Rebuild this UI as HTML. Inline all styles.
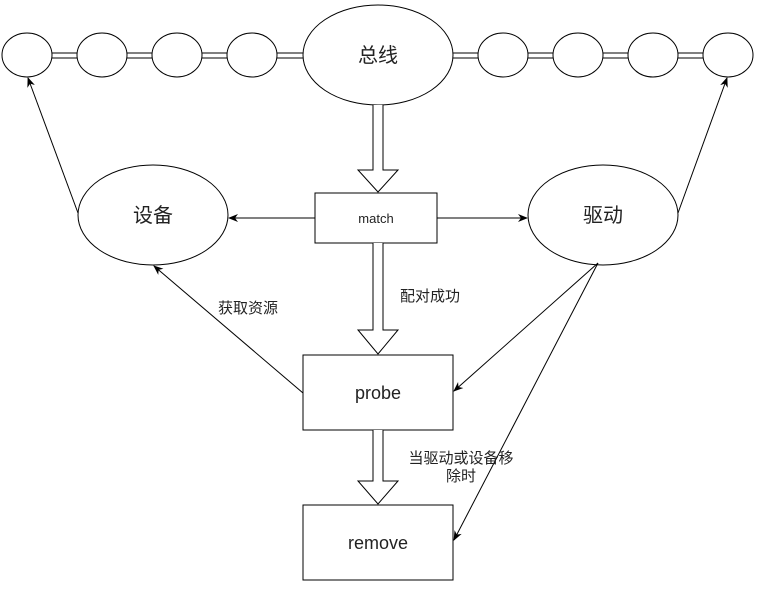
<!DOCTYPE html>
<html><head><meta charset="utf-8"><style>
body{margin:0;background:#fff;}
svg{display:block;font-family:"Liberation Sans","Noto Sans CJK SC",sans-serif;}
</style></head><body>
<svg width="765" height="591" viewBox="0 0 765 591">
<defs><marker id="a" markerWidth="10" markerHeight="10" refX="9" refY="5" orient="auto" markerUnits="userSpaceOnUse"><path d="M0,1 L10,5 L0,9 L3,5 Z" fill="#000"/></marker></defs>
<g stroke="#000" stroke-width="1" fill="none">
<line x1="52" y1="53" x2="78" y2="53"/><line x1="52" y1="58" x2="78" y2="58"/>
<line x1="127" y1="53" x2="153" y2="53"/><line x1="127" y1="58" x2="153" y2="58"/>
<line x1="202" y1="53" x2="228" y2="53"/><line x1="202" y1="58" x2="228" y2="58"/>
<line x1="277" y1="53" x2="303" y2="53"/><line x1="277" y1="58" x2="303" y2="58"/>
<line x1="453" y1="53" x2="478" y2="53"/><line x1="453" y1="58" x2="478" y2="58"/>
<line x1="527" y1="53" x2="553" y2="53"/><line x1="527" y1="58" x2="553" y2="58"/>
<line x1="602" y1="53" x2="628" y2="53"/><line x1="602" y1="58" x2="628" y2="58"/>
<line x1="677" y1="53" x2="703" y2="53"/><line x1="677" y1="58" x2="703" y2="58"/>
<ellipse cx="27" cy="55" rx="25" ry="22" fill="#fff"/>
<ellipse cx="102" cy="55" rx="25" ry="22" fill="#fff"/>
<ellipse cx="177" cy="55" rx="25" ry="22" fill="#fff"/>
<ellipse cx="252" cy="55" rx="25" ry="22" fill="#fff"/>
<ellipse cx="503" cy="55" rx="25" ry="22" fill="#fff"/>
<ellipse cx="578" cy="55" rx="25" ry="22" fill="#fff"/>
<ellipse cx="653" cy="55" rx="25" ry="22" fill="#fff"/>
<ellipse cx="728" cy="55" rx="25" ry="22" fill="#fff"/>
<ellipse cx="378" cy="55" rx="75" ry="50" fill="#fff"/>
<ellipse cx="153" cy="215" rx="75" ry="50" fill="#fff"/>
<ellipse cx="603" cy="215" rx="75" ry="50" fill="#fff"/>
<rect x="315" y="193" width="122" height="50" fill="#fff"/>
<rect x="303" y="355" width="150" height="75" fill="#fff"/>
<rect x="303" y="505" width="150" height="75" fill="#fff"/>
<path d="M373,105 V170 H358 L378,192 L398,170 H383 V105" fill="#fff"/>
<path d="M373,243 V330 H358 L378,354 L398,330 H383 V243" fill="#fff"/>
<path d="M373,430 V481 H358 L378,504 L398,481 H383 V430" fill="#fff"/>
<line x1="315" y1="218" x2="229" y2="218" marker-end="url(#a)"/>
<line x1="437" y1="218" x2="527" y2="218" marker-end="url(#a)"/>
<line x1="78" y1="213" x2="28" y2="78" marker-end="url(#a)"/>
<line x1="678" y1="213" x2="727" y2="78" marker-end="url(#a)"/>
<line x1="303" y1="393" x2="154" y2="266" marker-end="url(#a)"/>
<line x1="598" y1="263" x2="454" y2="391" marker-end="url(#a)"/>
<line x1="598" y1="263" x2="454" y2="540" marker-end="url(#a)"/>
</g>
<g fill="#222" text-anchor="middle">
<text x="378" y="62" font-size="20">总线</text>
<text x="153" y="222" font-size="20">设备</text>
<text x="603" y="222" font-size="20">驱动</text>
<text x="376" y="223" font-size="13">match</text>
<text x="378" y="399" font-size="18">probe</text>
<text x="378" y="549" font-size="18">remove</text>
<text x="430" y="301" font-size="15">配对成功</text>
<text x="248" y="313" font-size="15">获取资源</text>
<text x="461" y="463" font-size="15">当驱动或设备移</text>
<text x="461" y="481" font-size="15">除时</text>
</g>
</svg>
</body></html>
